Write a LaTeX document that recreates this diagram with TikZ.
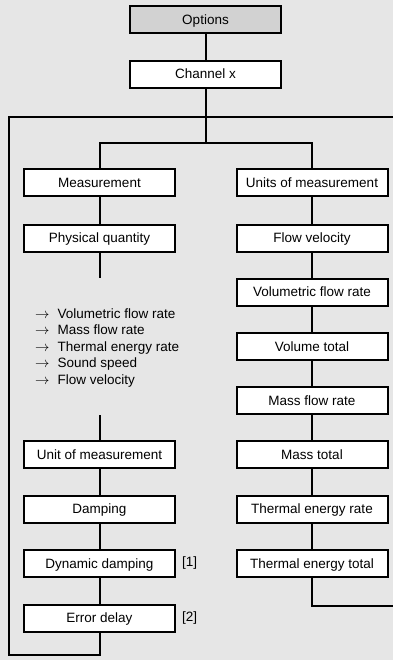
\documentclass[tikz,border=0pt]{standalone}
\usepackage{fontspec}
\setmainfont{Liberation Sans}
\definecolor{pagegray}{HTML}{E6E6E6}
\definecolor{headgray}{HTML}{D2D2D2}
\begin{document}
\begin{tikzpicture}[
x=1pt,y=-1pt,
box/.style={
draw,
fill=white,
line width=2pt,
font=\fontsize{13.5}{16.5}\selectfont,
inner sep=0pt,
minimum width=151pt,
minimum height=27pt,
text height=10pt,
text depth=1pt
},
headbox/.style={box, fill=headgray},
line/.style={line width=2pt},
note/.style={font=\fontsize{13.5}{16.5}\selectfont, inner sep=0pt}
]
\fill[pagegray] (0,0) rectangle (393,660);
\useasboundingbox (0,0) rectangle (393,660);
\node[headbox] (options) at (205.5,20) {Options};
\node[box] (channel) at (205.5,74.5) {Channel x};
\node[box] (measurement) at (99.5,183) {Measurement};
\node[box] (physQuantity) at (99.5,238) {Physical quantity};
\node[note, anchor=west, align=left] (quantityList) at (35,348)
{$\rightarrow$\hspace{8pt}Volumetric flow rate\\
$\rightarrow$\hspace{8pt}Mass flow rate\\
$\rightarrow$\hspace{8pt}Thermal energy rate\\
$\rightarrow$\hspace{8pt}Sound speed\\
$\rightarrow$\hspace{8pt}Flow velocity};
\node[box] (unitMeas) at (99.5,454.5) {Unit of measurement};
\node[box] (damping) at (99.5,509) {Damping};
\node[box] (dynDamping) at (99.5,563.5) {Dynamic damping};
\node[box] (errorDelay) at (99.5,618) {Error delay};
\node[note, anchor=west] (noteOne) at (182,563.5) {[1]};
\node[note, anchor=west] (noteTwo) at (182,618) {[2]};
\node[box] (units) at (312,183) {Units of measurement};
\node[box] (flowVelocity) at (312,238) {Flow velocity};
\node[box] (volFlow) at (312,292) {Volumetric flow rate};
\node[box] (volTotal) at (312,346.5) {Volume total};
\node[box] (massFlow) at (312,400.5) {Mass flow rate};
\node[box] (massTotal) at (312,454.5) {Mass total};
\node[box] (thermalRate) at (312,509) {Thermal energy rate};
\node[box] (thermalTotal) at (312,563.5) {Thermal energy total};
\coordinate (loopMid) at (205.5,117);
\coordinate (loopLeft) at (9,117);
\coordinate (loopRight) at (393,117);
\coordinate (loopBottom) at (9,655);
\coordinate (branch) at (205.5,143);
\coordinate (listTop) at (99.5,278);
\coordinate (listBottom) at (99.5,415);
\coordinate (rightExit) at (393,606);
\draw[line] (options) -- (channel);
\draw[line] (channel) -- (loopMid);
\draw[line] (loopRight) -- (loopLeft) -- (loopBottom) -| (errorDelay);
\draw[line] (loopMid) -- (branch);
\draw[line] (measurement) |- (branch) -| (units);
\draw[line] (measurement) -- (physQuantity);
\draw[line] (physQuantity) -- (listTop);
\draw[line] (listBottom) -- (unitMeas);
\draw[line] (unitMeas) -- (damping);
\draw[line] (damping) -- (dynDamping);
\draw[line] (dynDamping) -- (errorDelay);
\draw[line] (units) -- (flowVelocity);
\draw[line] (flowVelocity) -- (volFlow);
\draw[line] (volFlow) -- (volTotal);
\draw[line] (volTotal) -- (massFlow);
\draw[line] (massFlow) -- (massTotal);
\draw[line] (massTotal) -- (thermalRate);
\draw[line] (thermalRate) -- (thermalTotal);
\draw[line] (thermalTotal) |- (rightExit);
\end{tikzpicture}
\end{document}
